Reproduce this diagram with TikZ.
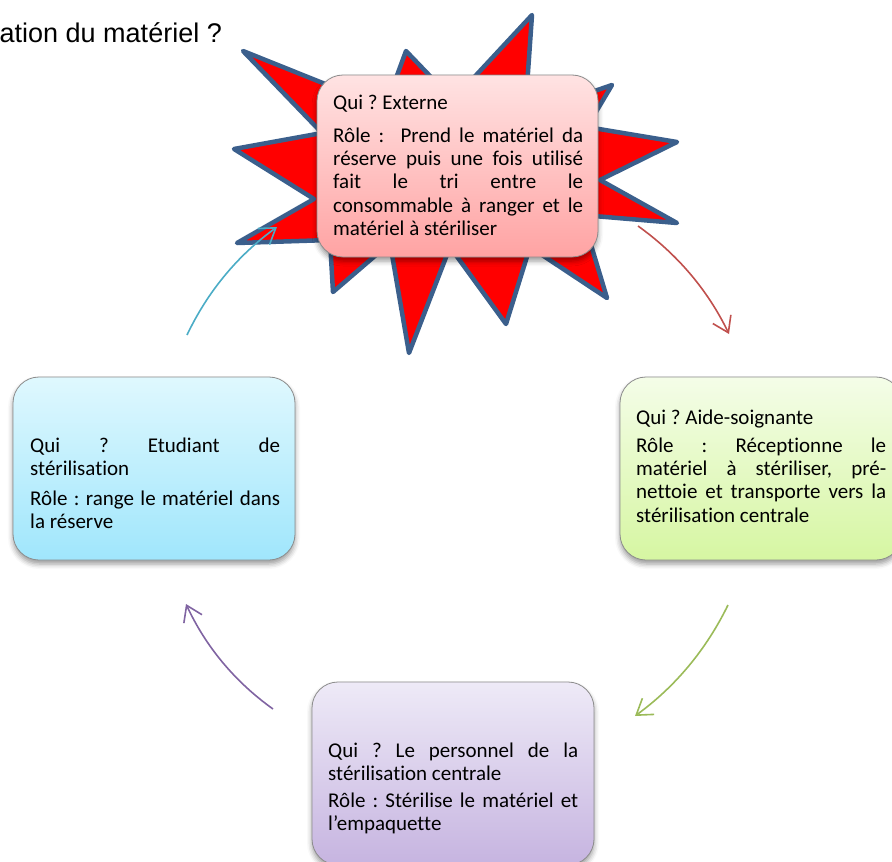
\documentclass[tikz,border=0pt]{standalone}
\usepackage{fontspec}
\setmainfont{Carlito}[Ligatures={NoCommon}]
\newfontfamily\arialf{Liberation Sans}
\usetikzlibrary{arrows.meta,shadows.blur}
\definecolor{starred}{HTML}{FF0000}
\definecolor{starblue}{HTML}{3B5F8C}
\definecolor{acyan}{HTML}{4BACC6}
\definecolor{ared}{HTML}{C0504D}
\definecolor{agreen}{HTML}{9BBB59}
\definecolor{apurple}{HTML}{8064A2}
\definecolor{pinktop}{HTML}{FFE3E3}
\definecolor{pinkbot}{HTML}{FFA3A3}
\definecolor{cyantop}{HTML}{DFF8FE}
\definecolor{cyanbot}{HTML}{A0E6FC}
\definecolor{greentop}{HTML}{F4FDE8}
\definecolor{greenbot}{HTML}{D6F6A2}
\definecolor{purptop}{HTML}{EEEAF7}
\definecolor{purpbot}{HTML}{C6B4E0}
\newcommand{\jline}[1]{\makebox[250pt][s]{#1}}
\frenchspacing
\begin{document}
\begin{tikzpicture}[x=1pt,y=-1pt,
  card/.style={draw=black!45, line width=0.8pt, rounded corners=26pt, inner sep=0pt,
    minimum width=282pt, minimum height=183pt,
    blur shadow={shadow xshift=0pt,shadow yshift=-4pt,shadow blur radius=5pt,shadow opacity=40}},
  txt/.style={anchor=base west, inner sep=0pt, font=\fontsize{21pt}{23.4pt}\selectfont},
  flow/.style={line width=1.6pt, -{Straight Barb[length=15pt,width=20pt,line width=1.6pt]}}
]
\clip (0,0) rectangle (892,862);
\useasboundingbox (0,0) rectangle (892,862);

% heading fragment
\node[anchor=base west, inner sep=0pt, font=\arialf\fontsize{27pt}{30pt}\selectfont] (head) at (-0.5,42) {ation du matériel ?};

% star
\draw[starblue, fill=starred, line width=4.5pt, line join=round]
  (532,15) -- (525,115) -- (612,85) -- (587,127) -- (677,142) -- (600,180) --
  (677,223) -- (582,215) -- (607,298) -- (530,247) -- (506,324) -- (450,247) --
  (409,353) -- (390,243) -- (333,292) -- (330,240) -- (237,243) -- (314,199) --
  (234,149) -- (322,133) -- (243,51) -- (385,108) -- (406,51) -- (453,100) -- cycle;

% boxes
\node[card, top color=pinktop, bottom color=pinkbot, minimum width=281pt, minimum height=182pt] (b1) at (457.5,166) {};
\node[card, top color=cyantop, bottom color=cyanbot] (b4) at (154,468.5) {};
\node[card, top color=greentop, bottom color=greenbot] (b2) at (761,468.5) {};
\node[card, top color=purptop, bottom color=purpbot] (b3) at (453,773.5) {};

% texts
\node[txt] (t1) at (333,109) {\parbox[t]{250pt}{\setlength{\parskip}{9.6pt}Qui ? Externe\par
\jline{Rôle :\ \ Prend le matériel da}\\
\jline{réserve puis une fois utilisé}\\
\jline{fait le tri entre le}\\
\jline{consommable à ranger et le}\\
matériel à stériliser}};

\node[txt] (t4) at (30,452) {\parbox[t]{250pt}{\setlength{\parskip}{6.2pt}\jline{Qui ? Etudiant de}\\
stérilisation\par
\jline{Rôle : range le matériel dans}\\
la réserve}};

\node[txt] (t2) at (636,424) {\parbox[t]{250pt}{\setlength{\parskip}{4.6pt}Qui ? Aide-soignante\par
\jline{Rôle : Réceptionne le}\\
\jline{matériel à stériliser, pré-}\\
\jline{nettoie et transporte vers la}\\
stérilisation centrale}};

\node[txt] (t3) at (328,757) {\parbox[t]{250pt}{\setlength{\parskip}{3.4pt}\jline{Qui ? Le personnel de la}\\
stérilisation centrale\par
\jline{Rôle : Stérilise le matériel et}\\
l’empaquette}};

% arrow end points
\coordinate (c1s) at (187,335);   \coordinate (c1e) at (277,227);
\coordinate (r1s) at (638,226);   \coordinate (r1e) at (729,334);
\coordinate (g1s) at (728,605);   \coordinate (g1e) at (635,716);
\coordinate (p1s) at (273,709);   \coordinate (p1e) at (186,604);

\draw[flow, acyan] (c1s) .. controls (207.8,291.3) and (237.8,255.3) .. (c1e);
\draw[flow, ared] (r1s) .. controls (677.5,254.3) and (707.9,290.3) .. (r1e);
\draw[flow, agreen] (g1s) .. controls (706.2,649.7) and (675.2,686.7) .. (g1e);
\draw[flow, apurple] (p1s) .. controls (234.8,681.7) and (205.8,646.7) .. (p1e);
\end{tikzpicture}
\end{document}
